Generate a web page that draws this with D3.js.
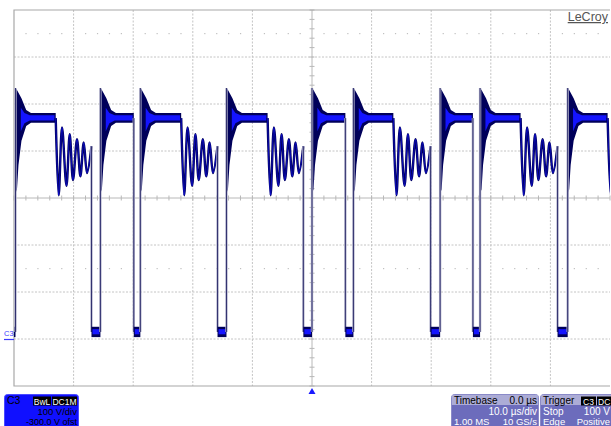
<!DOCTYPE html>
<html><head><meta charset="utf-8">
<script src="https://cdn.jsdelivr.net/npm/d3@7"></script>
<style>html,body{margin:0;padding:0;background:#fff;}svg{display:block;font-family:"Liberation Sans",Arial,sans-serif;}</style>
</head><body>
<script>
// ---- data (time in µs, voltage in V) ----
const timeTicks = [-50,-40,-30,-20,-10,0,10,20,30,40,50];
const voltTicks = [-100,0,100,200,300,400,500,600,700];
const riseT = [-49.75, -35.5, -28.8, -14.35, 0.0, 6.95, 21.5, 28.2, 42.9];
const fallT = [-43.0, -29.9, -21.95, -7.45, 5.6, 13.65, 27.0, 35.0, 49.6];
const ringEndT = [-37.0, null, -15.85, -1.45, null, 19.9, null, 41.2, 56.0];
// pulse envelope (µs after rising edge)
const envT = [0, 0.25, 0.5, 1.0, 1.8, 2.6];
const envUpperV = [534, 530, 524, 512, 487, 481];
const envLowerV = [310, 318, 370, 422, 453, 460];
const coreT = [0.9, 1.5, 2.4];
const coreUpperV = [492, 481, 476];
const coreLowerV = [442, 459, 465];
// ringing turning points (µs after falling edge of plateau)
const ringT = [0, 0.5, 1.06, 1.8, 2.35, 2.9, 3.57, 4.14, 4.7, 5.25, 6.0];
const ringV = [470, 306, 450, 326, 436, 338, 425, 346, 418, 353, 410];
// low level band
const lowBandV = [4, 10, 21, 26];
const lowLevelV = 15;

const W = 611, H = 426;
const svg = d3.select("body").append("svg").attr("width", W).attr("height", H);
const x = d3.scaleLinear().domain([-50, 50]).range([14, 610]);
const y = d3.scaleLinear().domain([-100, 700]).range([386, 10]);

// ---- grid ----
const g = svg.append("g");
timeTicks.slice(1, -1).forEach(t => {
  if (t === 0) return;
  g.append("line").attr("x1", x(t)).attr("x2", x(t)).attr("y1", y(700)).attr("y2", y(-100))
    .attr("stroke", "#c4c4c4").attr("stroke-dasharray", "2,1.5");
});
voltTicks.slice(1, -1).forEach(v => {
  if (v === 300) return;
  g.append("line").attr("x1", x(-50)).attr("x2", x(50)).attr("y1", y(v)).attr("y2", y(v))
    .attr("stroke", "#c4c4c4").attr("stroke-dasharray", "2,1.5");
});
// dotted rows at half divisions
[650, 150].forEach(v => {
  for (let t = -50; t <= 50.001; t += 2) {
    if (Math.abs(t % 10) < 0.01) continue;
    g.append("rect").attr("x", x(t) - 0.5).attr("y", y(v) - 0.5).attr("width", 1.2).attr("height", 1.2).attr("fill", "#c0c0c0");
  }
});
// centre axes with minor ticks
g.append("line").attr("x1", x(0)).attr("x2", x(0)).attr("y1", y(700)).attr("y2", y(-100)).attr("stroke", "#b8b8b8");
g.append("line").attr("x1", x(-50)).attr("x2", x(50)).attr("y1", y(300)).attr("y2", y(300)).attr("stroke", "#b8b8b8");
for (let t = -50; t <= 50.001; t += 2) {
  g.append("line").attr("x1", x(t)).attr("x2", x(t)).attr("y1", y(300) - 2.5).attr("y2", y(300) + 2.5).attr("stroke", "#b8b8b8");
}
for (let v = -100; v <= 700.001; v += 20) {
  g.append("line").attr("x1", x(0) - 2.5).attr("x2", x(0) + 2.5).attr("y1", y(v)).attr("y2", y(v)).attr("stroke", "#b8b8b8");
}
// border
g.append("path").attr("d", `M${x(50)},${y(700)}H${x(-50)}V${y(-100)}H${x(50)}`)
  .attr("fill", "none").attr("stroke", "#a8a8a8").attr("stroke-width", 1.2);

// ---- trace ----
svg.append("clipPath").attr("id", "clip").append("rect")
  .attr("x", x(-50)).attr("y", y(700)).attr("width", x(50) - x(-50)).attr("height", y(-100) - y(700));
const tr = svg.append("g").attr("clip-path", "url(#clip)");
const navy = "#00005a", bright = "#1414ff", edgeHalo = "#b4b4cc", edgeCore = "#30306e";

function edge(t, v1, v2) {
  tr.append("line").attr("x1", x(t)).attr("x2", x(t)).attr("y1", y(v1)).attr("y2", y(v2))
    .attr("stroke", edgeHalo).attr("stroke-width", 2.4);
  tr.append("line").attr("x1", x(t)).attr("x2", x(t)).attr("y1", y(v1)).attr("y2", y(v2))
    .attr("stroke", edgeCore).attr("stroke-width", 1);
}
function lowBlock(t0, t1) {
  tr.append("rect").attr("x", x(t0)).attr("y", y(lowBandV[3])).attr("width", Math.max(0, x(t1) - x(t0)))
    .attr("height", y(lowBandV[0]) - y(lowBandV[3])).attr("fill", navy);
  tr.append("rect").attr("x", x(t0) + 1).attr("y", y(lowBandV[2])).attr("width", Math.max(0, x(t1) - x(t0) - 2))
    .attr("height", y(lowBandV[1]) - y(lowBandV[2])).attr("fill", bright);
}
const area = d3.area().x(d => x(d.t)).y0(d => y(d.lo)).y1(d => y(d.hi));
const ringLine = d3.line().x(d => x(d.t)).y(d => y(d.v)).curve(d3.curveCatmullRom.alpha(0.5));

lowBlock(-50, riseT[0]);
riseT.forEach((r, i) => {
  const f = fallT[i];
  const env = envT.map((t, k) => ({t: r + t, hi: envUpperV[k], lo: envLowerV[k]}));
  env.push({t: f, hi: envUpperV[envUpperV.length - 1], lo: envLowerV[envLowerV.length - 1]});
  tr.append("path").attr("d", area(env)).attr("fill", navy);
  const core = coreT.map((t, k) => ({t: r + t, hi: coreUpperV[k], lo: coreLowerV[k]}));
  core.push({t: f - 0.2, hi: coreUpperV[coreUpperV.length - 1], lo: coreLowerV[coreLowerV.length - 1]});
  tr.append("path").attr("d", area(core)).attr("fill", bright);
  edge(r, lowLevelV, envUpperV[0]);
  let endT, endV;
  if (ringEndT[i] !== null) {
    const span = ringEndT[i] - f;
    const sc = span / ringT[ringT.length - 1];
    const pts = ringT.map((t, k) => ({t: f + t * sc, v: ringV[k]}));
    tr.append("path").attr("d", ringLine(pts)).attr("fill", "none").attr("stroke", navy).attr("stroke-width", 2.4);
    tr.append("path").attr("d", ringLine(pts)).attr("fill", "none").attr("stroke", bright).attr("stroke-width", 0.8).attr("opacity", 0.7);
    endT = ringEndT[i]; endV = ringV[ringV.length - 1];
  } else {
    endT = f; endV = 470;
  }
  edge(endT, endV, lowLevelV);
  const next = i + 1 < riseT.length ? riseT[i + 1] : 50;
  if (endT < next) lowBlock(endT, next);
});

// ---- annotations ----
svg.append("text").attr("x", 608).attr("y", 21).attr("text-anchor", "end")
  .attr("font-size", 12.5).attr("fill", "#555").attr("text-decoration", "underline").text("LeCroy");
svg.append("text").attr("x", 4).attr("y", 336).attr("font-size", 7.5).attr("fill", "#3a3aff").text("C3");
svg.append("line").attr("x1", 4).attr("x2", 14).attr("y1", y(0) + 0.5).attr("y2", y(0) + 0.5).attr("stroke", "#3a3aff").attr("stroke-width", 1.2);
// trigger marker
svg.append("path").attr("d", `M${x(0)},${y(-100) + 2}l-3.5,6h7z`).attr("fill", "#1a1aff");

// channel box
const cb = svg.append("g");
cb.append("rect").attr("x", 4.5).attr("y", 394.5).attr("width", 74).attr("height", 40).attr("rx", 3).attr("fill", "#1010ff").attr("stroke", "#4a4aff");
cb.append("text").attr("x", 7).attr("y", 404).attr("font-size", 10.5).attr("fill", "#000").text("C3");
cb.append("rect").attr("x", 33).attr("y", 396.5).attr("width", 18).attr("height", 9).attr("fill", "#000");
cb.append("rect").attr("x", 52).attr("y", 396.5).attr("width", 25).attr("height", 9).attr("fill", "#000");
cb.append("text").attr("x", 42).attr("y", 404.5).attr("font-size", 8.5).attr("fill", "#fff").attr("text-anchor", "middle").text("BwL");
cb.append("text").attr("x", 64.5).attr("y", 404.5).attr("font-size", 8.5).attr("fill", "#fff").attr("text-anchor", "middle").text("DC1M");
cb.append("text").attr("x", 77).attr("y", 414.5).attr("font-size", 9.5).attr("fill", "#000").attr("text-anchor", "end").text("100 V/div");
cb.append("text").attr("x", 77).attr("y", 424.5).attr("font-size", 9).attr("fill", "#000").attr("text-anchor", "end").text("-300.0 V ofst");

// timebase box
const tb = svg.append("g");
tb.append("rect").attr("x", 451.5).attr("y", 394.5).attr("width", 87).attr("height", 40).attr("rx", 3).attr("fill", "#6c6cbc").attr("stroke", "#8a8ac8");
tb.append("rect").attr("x", 452).attr("y", 395).attr("width", 86).attr("height", 10).attr("fill", "#acacd6");
tb.append("text").attr("x", 454).attr("y", 404).attr("font-size", 10).attr("fill", "#000").text("Timebase");
tb.append("text").attr("x", 537).attr("y", 404).attr("font-size", 10).attr("fill", "#000").attr("text-anchor", "end").text("0.0 µs");
tb.append("text").attr("x", 537).attr("y", 414.5).attr("font-size", 10).attr("fill", "#fff").attr("text-anchor", "end").text("10.0 µs/div");
tb.append("text").attr("x", 454).attr("y", 424.5).attr("font-size", 9.5).attr("fill", "#fff").text("1.00 MS");
tb.append("text").attr("x", 537).attr("y", 424.5).attr("font-size", 9.5).attr("fill", "#fff").attr("text-anchor", "end").text("10 GS/s");

// trigger box
const tg = svg.append("g");
tg.append("rect").attr("x", 540.5).attr("y", 394.5).attr("width", 80).attr("height", 40).attr("rx", 3).attr("fill", "#6c6cbc").attr("stroke", "#8a8ac8");
tg.append("rect").attr("x", 541).attr("y", 395).attr("width", 79).attr("height", 10).attr("fill", "#acacd6");
tg.append("text").attr("x", 543).attr("y", 404).attr("font-size", 10).attr("fill", "#000").text("Trigger");
tg.append("rect").attr("x", 581).attr("y", 396.5).attr("width", 15).attr("height", 9).attr("fill", "#000");
tg.append("rect").attr("x", 597).attr("y", 396.5).attr("width", 14).attr("height", 9).attr("fill", "#000");
tg.append("text").attr("x", 588.5).attr("y", 404.5).attr("font-size", 8.5).attr("fill", "#fff").attr("text-anchor", "middle").text("C3");
tg.append("text").attr("x", 598).attr("y", 404.5).attr("font-size", 8.5).attr("fill", "#fff").text("DC");
tg.append("text").attr("x", 543).attr("y", 414.5).attr("font-size", 10).attr("fill", "#fff").text("Stop");
tg.append("text").attr("x", 610).attr("y", 414.5).attr("font-size", 10).attr("fill", "#fff").attr("text-anchor", "end").text("100 V");
tg.append("text").attr("x", 543).attr("y", 424.5).attr("font-size", 9.5).attr("fill", "#fff").text("Edge");
tg.append("text").attr("x", 610).attr("y", 424.5).attr("font-size", 9.5).attr("fill", "#fff").attr("text-anchor", "end").text("Positive");
</script>
</body></html>
